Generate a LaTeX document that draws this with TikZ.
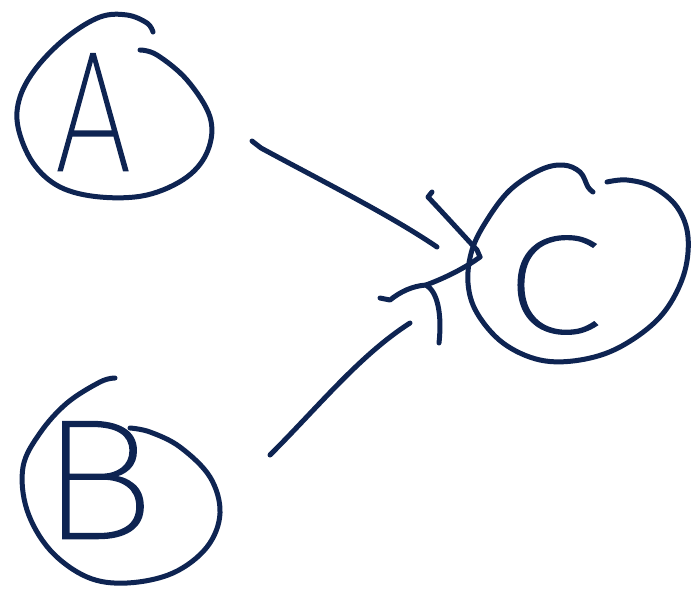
\documentclass[tikz,border=0pt]{standalone}
\usepackage{fontspec}
\newfontfamily\handfont{Fira Sans}[UprightFont=* Thin, FakeBold=1.6]
\definecolor{ink}{HTML}{0E2452}
\tikzset{
  pen/.style={draw=ink, line width=5pt, line cap=round, line join=round},
  letter/.style={text=ink, inner sep=0pt, font=\handfont\fontsize{170}{170}\selectfont}
}
\begin{document}
\begin{tikzpicture}[x=1pt, y=-1pt]
\useasboundingbox (0,0) rectangle (692,592);
% letters
\node[letter, xscale=0.8] (a) at (93,112) {A};
\node[letter, xscale=1.15] (b) at (97,480) {B};
\node[letter, xscale=1.05, yscale=0.82] (c) at (553,285) {C};
% hand-drawn rings
\draw[pen] plot[smooth, tension=0.6] coordinates {(140,50) (157,55) (187,80) (210,117) (208,150) (187,177) (147,195) (100,197) (60,187) (33,163) (18,127) (20,97) (37,67) (67,37) (100,17) (127,15) (147,23) (153,32)};
\draw[pen] plot[smooth, tension=0.6] coordinates {(115,378) (100,382) (67,403) (40,433) (23,467) (27,510) (50,550) (87,577) (127,583) (173,573) (207,547) (220,513) (210,477) (180,447) (150,432) (130,428)};
\draw[pen] plot[smooth, tension=0.6] coordinates {(593,192) (588,187) (580,172) (563,165) (540,170) (510,190) (487,220) (472,250) (468,283) (477,313) (503,343) (540,360) (580,360) (620,347) (660,317) (683,277) (688,237) (677,207) (653,187) (627,180) (607,182)};
% arrow A to C
\coordinate (a1) at (252,141);
\coordinate (a2) at (437,247);
\draw[pen] (a1) -- (261,148) .. controls (320,180) and (390,215) .. (a2);
% arrow B to C
\coordinate (b1) at (270,455);
\coordinate (b2) at (410,323);
\draw[pen] (b1) .. controls (320,405) and (360,355) .. (b2);
% arrowhead strokes
\coordinate (h1) at (480,257);
\coordinate (h2) at (426,285);
\draw[pen] (432,192) -- (428,197) .. controls (445,215) and (465,237) .. (477,250) -- (h1);
\draw[pen] (380,298) -- (390,300) .. controls (400,292) and (412,286) .. (h2) .. controls (445,278) and (465,268) .. (h1);
\draw[pen] (h2) .. controls (438,292) and (442,315) .. (439,343);
\end{tikzpicture}
\end{document}
